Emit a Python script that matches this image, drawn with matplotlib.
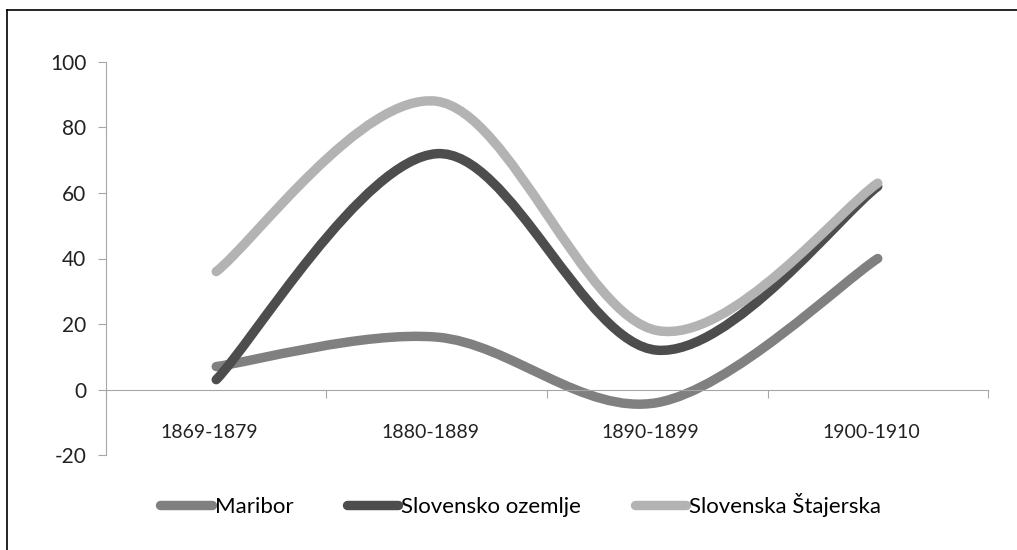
import matplotlib.pyplot as plt
from matplotlib.path import Path
from matplotlib.patches import PathPatch
from matplotlib.lines import Line2D

# Data
categories = ["1869-1879", "1880-1889", "1890-1899", "1900-1910"]
maribor = [7, 16, -4, 40]
ozemlje = [3, 72, 12, 62]
stajerska = [36, 88, 18, 63]

series = [
    ("Maribor", maribor, "#808080"),
    ("Slovensko ozemlje", ozemlje, "#4d4d4d"),
    ("Slovenska Štajerska", stajerska, "#b3b3b3"),
]


def smooth_path(xs, ys):
    # Excel-style smoothed line: cubic Bezier through the points
    n = len(xs)
    verts = [(xs[0], ys[0])]
    codes = [Path.MOVETO]
    for i in range(n - 1):
        p = max(i - 1, 0)
        q = min(i + 2, n - 1)
        c1 = (xs[i] + (xs[i + 1] - xs[p]) / 6, ys[i] + (ys[i + 1] - ys[p]) / 6)
        c2 = (xs[i + 1] - (xs[q] - xs[i]) / 6, ys[i + 1] - (ys[q] - ys[i]) / 6)
        verts += [c1, c2, (xs[i + 1], ys[i + 1])]
        codes += [Path.CURVE4] * 3
    return Path(verts, codes)


fig = plt.figure(figsize=(10.17, 5.5), dpi=100)
ax = fig.add_axes([0.1042, 0.1727, 0.8673, 0.7146])

x = list(range(len(categories)))
handles = []
for name, vals, color in series:
    patch = PathPatch(smooth_path(x, vals), facecolor="none", edgecolor=color,
                      lw=6.8, capstyle="round", joinstyle="round")
    ax.add_patch(patch)
    handles.append(Line2D([], [], color=color, lw=6.8, solid_capstyle="round", label=name))

ax.set_xlim(-0.5, 3.5)
ax.set_ylim(-20, 100)
ax.set_yticks(range(-20, 101, 20))
ax.set_yticklabels([str(v) for v in range(-20, 101, 20)], fontfamily="Lato", fontsize=15, color="#222222")

# category axis crossing at zero
ax.spines["top"].set_visible(False)
ax.spines["right"].set_visible(False)
ax.spines["bottom"].set_position(("data", 0))
ax.spines["bottom"].set_color("#a6a6a6")
ax.spines["left"].set_color("#a6a6a6")
ax.set_xticks([-0.5, 0.5, 1.5, 2.5, 3.5])
ax.set_xticklabels([])
ax.tick_params(axis="x", direction="out", length=6, color="#a6a6a6")
ax.tick_params(axis="y", direction="out", length=6, color="#a6a6a6", pad=8)
for i, c in enumerate(categories):
    ax.text(i - 0.03, -13, c, ha="center", va="center", fontfamily="Lato",
            fontsize=14, color="#222222")

fig.legend(handles=handles, loc="center", bbox_to_anchor=(0.512, 0.082), ncol=3,
           frameon=False, handlelength=2.3, handletextpad=0.15, columnspacing=2.4,
           prop={"family": "Lato", "size": 16})

# outer frame (partly cropped)
fig.add_artist(Line2D([7 / 1017, 1], [0.982, 0.982], color="black", lw=1.2))
fig.add_artist(Line2D([7 / 1017, 7 / 1017], [0, 0.982], color="black", lw=1.2))

fig.savefig("out.png")
